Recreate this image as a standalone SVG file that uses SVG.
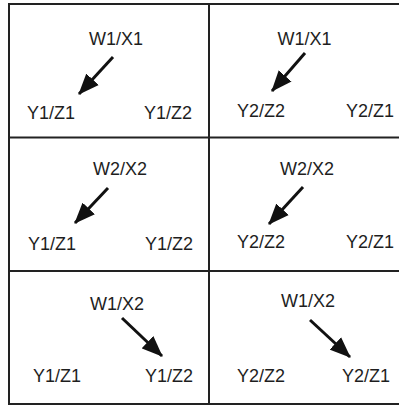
<svg xmlns="http://www.w3.org/2000/svg" width="399" height="408" viewBox="0 0 399 408">
<style>
.t{font-family:"Liberation Sans",Arial,sans-serif;font-size:18px;fill:#1e1e1e;text-anchor:middle}
.a{stroke:#111;stroke-width:3;fill:none;marker-end:url(#ah)}
.g{stroke:#222;stroke-width:2;fill:none}
</style>
<defs>
<marker id="ah" markerUnits="userSpaceOnUse" markerWidth="22" markerHeight="18" refX="20" refY="8.5" orient="auto" viewBox="0 0 22 17">
<path d="M0,0 L21,8.5 L0,17 z" fill="#111"/>
</marker>
</defs>
<rect width="399" height="408" fill="#fff"/>
<g id="grid">
<rect class="g" x="9" y="4" width="394" height="400"/>
<line class="g" x1="209" y1="4" x2="209" y2="404"/>
<line class="g" x1="9" y1="137.5" x2="403" y2="137.5"/>
<line class="g" x1="9" y1="271" x2="403" y2="271"/>
</g>
<g id="cell1">
<text class="t" x="116" y="45">W1/X1</text>
<text class="t" x="51" y="119">Y1/Z1</text>
<text class="t" x="168" y="119">Y1/Z2</text>
</g>
<g id="cell2">
<text class="t" x="304.5" y="45">W1/X1</text>
<text class="t" x="261" y="117">Y2/Z2</text>
<text class="t" x="370" y="117">Y2/Z1</text>
</g>
<g id="cell3">
<text class="t" x="120" y="175">W2/X2</text>
<text class="t" x="52" y="250">Y1/Z1</text>
<text class="t" x="169" y="250">Y1/Z2</text>
</g>
<g id="cell4">
<text class="t" x="307" y="175">W2/X2</text>
<text class="t" x="261" y="248">Y2/Z2</text>
<text class="t" x="370" y="248">Y2/Z1</text>
</g>
<g id="cell5">
<text class="t" x="117" y="310">W1/X2</text>
<text class="t" x="57" y="382">Y1/Z1</text>
<text class="t" x="169" y="382">Y1/Z2</text>
</g>
<g id="cell6">
<text class="t" x="308" y="307">W1/X2</text>
<text class="t" x="261" y="382">Y2/Z2</text>
<text class="t" x="366" y="382">Y2/Z1</text>
</g>
<g id="connectors">
<line class="a" x1="113" y1="57" x2="79" y2="94"/>
<line class="a" x1="305" y1="53" x2="272" y2="91"/>
<line class="a" x1="108" y1="188" x2="75" y2="223"/>
<line class="a" x1="303" y1="187" x2="269" y2="224"/>
<line class="a" x1="122" y1="318" x2="162" y2="356"/>
<line class="a" x1="310" y1="320" x2="350" y2="357"/>
</g>
</svg>
